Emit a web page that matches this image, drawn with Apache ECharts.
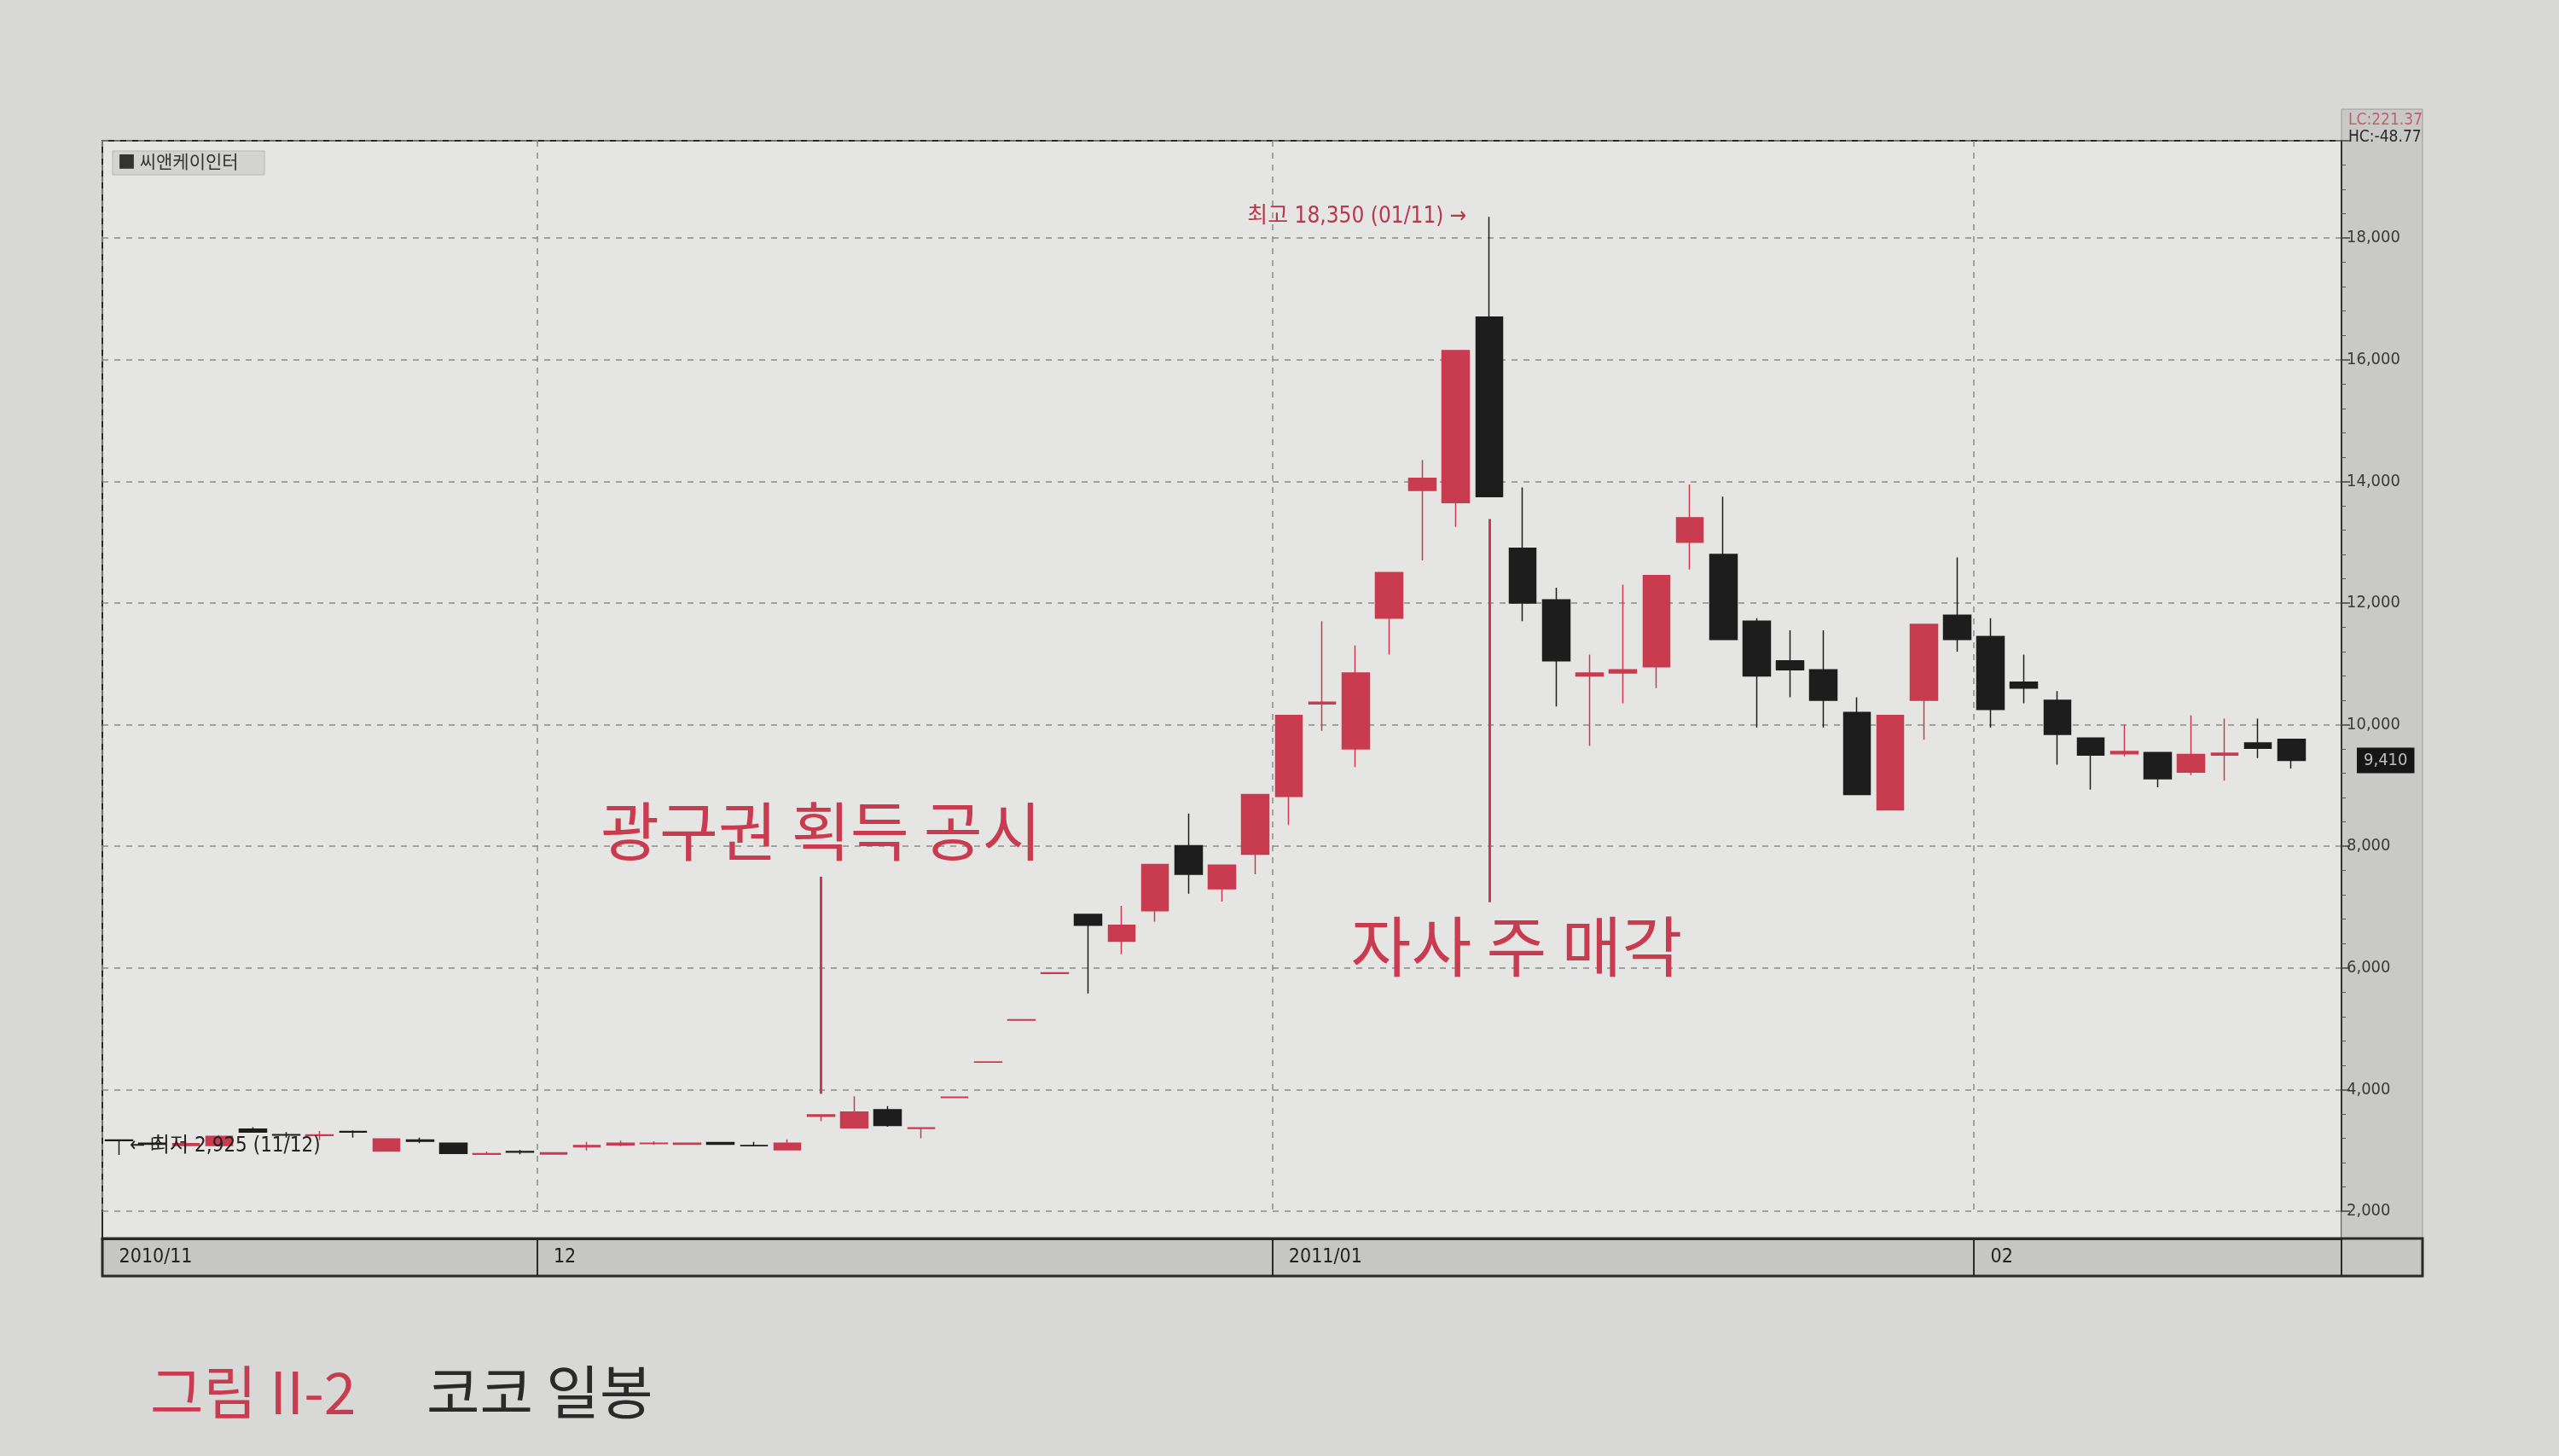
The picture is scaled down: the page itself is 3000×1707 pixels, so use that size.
<!DOCTYPE html>
<html><head><meta charset="utf-8">
<script src="https://cdn.jsdelivr.net/npm/echarts@6/dist/echarts.min.js"></script>
<style>html,body{margin:0;padding:0;background:#d8d9d7;}#c{width:3000px;height:1707px;}</style>
</head><body><div id="c"></div>
<script>
// ---- data ----
const dates = [
 '2010/11/12','2010/11/15','2010/11/16','2010/11/17','2010/11/18','2010/11/19','2010/11/22','2010/11/23','2010/11/24','2010/11/25','2010/11/26','2010/11/29','2010/11/30',
 '2010/12/01','2010/12/02','2010/12/03','2010/12/06','2010/12/07','2010/12/08','2010/12/09','2010/12/10','2010/12/13','2010/12/14','2010/12/15','2010/12/16','2010/12/17','2010/12/20','2010/12/21','2010/12/22','2010/12/23','2010/12/24','2010/12/27','2010/12/28','2010/12/29','2010/12/30',
 '2011/01/03','2011/01/04','2011/01/05','2011/01/06','2011/01/07','2011/01/10','2011/01/11','2011/01/12','2011/01/13','2011/01/14','2011/01/17','2011/01/18','2011/01/19','2011/01/20','2011/01/21','2011/01/24','2011/01/25','2011/01/26','2011/01/27','2011/01/28','2011/01/31',
 '2011/02/01','2011/02/07','2011/02/08','2011/02/09','2011/02/10','2011/02/11','2011/02/14','2011/02/15','2011/02/16','2011/02/17'
];
const opens = [
 3170,3120,3080,3080,3350,3260,3245,3310,2990,3170,3120,2935,2980,
 2940,3060,3090,3110,3100,3130,3080,3010,3560,3370,3670,3360,3870,4450,5140,5910,6880,6440,6940,8010,7300,7870,
 8820,10340,9600,11750,13850,13650,16700,12900,12050,10800,10850,10950,13000,12800,11700,11050,10900,10200,8600,10400,11800,
 11450,10700,10400,9780,9520,9540,9220,9500,9700,9760
];
const closes = [
 3160,3100,3110,3230,3300,3250,3255,3300,3190,3150,2950,2945,2970,
 2960,3080,3120,3120,3120,3100,3075,3120,3585,3630,3410,3370,3875,4455,5150,5920,6700,6700,7700,7540,7690,8850,
 10150,10370,10850,12500,14050,16150,13750,12000,11050,10850,10900,12450,13400,11400,10800,10900,10400,8850,10150,11650,11400,
 10250,10600,9840,9500,9560,9110,9510,9530,9610,9410
];
const lows = [
 2925,3000,3040,3070,3290,3210,3170,3210,2985,3120,2945,2930,2935,
 2930,3000,3070,3090,3090,3100,3070,3000,3480,3360,3390,3200,3865,4450,5140,5910,5580,6225,6760,7220,7090,7540,
 8350,9900,9300,11150,12700,13250,13750,11700,10300,9650,10350,10600,12550,11400,9950,10450,9950,8850,8600,9750,11200,
 9950,10350,9340,8930,9480,8970,9170,9080,9450,9280
];
const highs = [
 3175,3210,3160,3250,3380,3300,3320,3330,3200,3210,3125,2980,3010,
 2970,3140,3160,3150,3130,3135,3140,3180,3590,3890,3730,3375,3875,4455,5150,5920,6880,7020,7700,8540,7700,8850,
 10150,11700,11300,12500,14350,16150,18350,13900,12250,11150,12300,12450,13950,13750,11750,11550,11550,10450,10150,11650,12750,
 11750,11150,10550,9790,10000,9550,10150,10100,10100,9770
];
const monthStarts = ['2010/11/12','2010/12/01','2011/01/03','2011/02/01'];
const monthLabels = ['2010/11','12','2011/01','02'];
const yMin = 2000, yMax = 19600, yStep = 2000;

// ---- styles ----
const RED = '#c93b4f', BLK = '#1d1d1d';
const NARROW = '"Liberation Sans Narrow","DejaVu Sans Condensed","Noto Sans CJK KR",sans-serif';
const KR = '"Noto Sans CJK KR","Noto Sans",sans-serif';

const ohlc = dates.map((d, i) => [opens[i], closes[i], lows[i], highs[i]]);
const startIdx = monthStarts.map(d => dates.indexOf(d));
const isStart = (i) => startIdx.indexOf(i) >= 0;
const fmt = v => Number(v).toLocaleString('en-US');
const iHi = highs.indexOf(Math.max(...highs));
const iLo = lows.indexOf(Math.min(...lows));
const iNews = dates.indexOf('2010/12/13');
const last = closes[closes.length - 1];

const GL = 120, GR = 2745, GT = 165, GB = 1420, BAR = 32, BARH = 44, PANW = 95;

const chart = echarts.init(document.getElementById('c'));
chart.setOption({
  backgroundColor: '#d8d9d7',
  animation: false,
  grid: { left: GL, right: 3000 - GR, top: GT, bottom: 1707 - GB, show: false },
  xAxis: {
    type: 'category', data: dates, boundaryGap: true, max: dates.length,
    offset: BAR,
    axisLine: { show: true, lineStyle: { color: '#2a2a2a', width: 3 } },
    axisTick: { show: true, inside: false, length: BARH, interval: (i) => isStart(i),
                lineStyle: { color: '#2a2a2a', width: 2 } },
    axisLabel: { show: true, interval: (i) => isStart(i), align: 'left', margin: 11,
                 formatter: (v) => { const k = monthStarts.indexOf(v); return k >= 0 ? monthLabels[k] : ''; },
                 fontFamily: NARROW, fontSize: 23, color: '#222' },
    splitLine: { show: true, interval: (i) => isStart(i),
                 lineStyle: { color: '#8a8a8a', width: 1.5, type: [7, 7] } }
  },
  yAxis: {
    type: 'value', position: 'right', min: yMin, max: yMax, interval: yStep, scale: false,
    axisLine: { show: true, lineStyle: { color: '#333', width: 2 } },
    axisTick: { show: true, length: 10, lineStyle: { color: '#444', width: 1.5 } },
    minorTick: { show: true, splitNumber: 5, length: 5, lineStyle: { color: '#555', width: 1 } },
    axisLabel: { formatter: fmt, fontFamily: NARROW, fontSize: 20, color: '#3a3a3a', margin: 6,
                 showMaxLabel: false },
    splitLine: { show: true, lineStyle: { color: '#8a8a8a', width: 1.5, type: [7, 7] } }
  },
  series: [{
    type: 'candlestick', data: ohlc, barWidth: '82%',
    itemStyle: { color: RED, color0: BLK, borderColor: RED, borderColor0: BLK, borderWidth: 1.5 },
    markLine: {
      silent: true, symbol: 'none', animation: false,
      data: [
        [{ coord: [iNews, 7500], lineStyle: { color: RED, width: 3, type: 'solid' }, label: { show: false } },
         { coord: [iNews, 3930] }],
        [{ coord: [iHi, 13380], lineStyle: { color: RED, width: 3, type: 'solid' }, label: { show: false } },
         { coord: [iHi, 7080] }],
        { yAxis: last, lineStyle: { color: 'rgba(0,0,0,0)', width: 1, type: 'solid' },
          label: { show: true, position: 'end', distance: 18, formatter: fmt(last),
                   backgroundColor: '#161616', color: '#bdbdbd', padding: [5, 8],
                   fontFamily: NARROW, fontSize: 20, opacity: 1 } }
      ]
    },
    markPoint: {
      silent: true, symbol: 'circle', symbolSize: 1, itemStyle: { color: 'rgba(0,0,0,0)' },
      data: [
        { coord: [iHi, highs[iHi]],
          label: { show: true, position: 'left', distance: 26, formatter: '최고 ' + fmt(highs[iHi]) + ' (01/11) →',
                   color: '#b8384b', fontFamily: NARROW, fontSize: 26 } },
        { coord: [iLo, lows[iLo]],
          label: { show: true, position: 'right', distance: 12, offset: [0, -10],
                   formatter: '← 최저 ' + fmt(lows[iLo]) + ' (11/12)',
                   color: '#222', fontFamily: NARROW, fontSize: 24 } },
        { coord: [iNews, 8250],
          label: { show: true, position: 'inside', formatter: '광구권 획득 공시',
                   color: RED, fontFamily: KR, fontSize: 75, fontWeight: 400 } },
        { coord: [iHi, 6350],
          label: { show: true, position: 'inside', offset: [32, 0], formatter: '자사 주 매각',
                   color: RED, fontFamily: KR, fontSize: 77, fontWeight: 400 } }
      ]
    }
  }],
  graphic: [
    { type: 'rect', z: -2, shape: { x: GL, y: GT, width: GR - GL, height: GB + BAR - GT },
      style: { fill: '#e5e6e4', stroke: '#2a2a2a', lineWidth: 2 } },
    { type: 'rect', z: -1, shape: { x: GR, y: 128, width: PANW, height: GB + BAR - 128 },
      style: { fill: '#c9cac8', stroke: '#9a9a9a', lineWidth: 1 } },
    { type: 'rect', z: -1, shape: { x: GL, y: GB + BAR, width: GR + PANW - GL, height: BARH },
      style: { fill: '#c6c7c5', stroke: '#2a2a2a', lineWidth: 3 } },
    { type: 'text', left: GR + 8, top: 132, z: 10,
      style: { text: 'LC:221.37', fill: '#c0606e', font: '19px ' + NARROW } },
    { type: 'text', left: GR + 8, top: 152, z: 10,
      style: { text: 'HC:-48.77', fill: '#2a2a2a', font: '19px ' + NARROW } },
    { type: 'rect', z: 10, shape: { x: GL + 12, y: GT + 12, width: 178, height: 28 },
      style: { fill: '#d3d4d2', stroke: '#b5b5b5', lineWidth: 1 } },
    { type: 'text', left: GL + 18, top: GT + 14, z: 11,
      style: { text: '■ 씨앤케이인터', fill: '#333', font: '21px ' + KR } },
    { type: 'text', left: 176, top: 1598, z: 10,
      style: { text: '그림 II-2', fill: '#c83c50', font: '400 68px ' + KR } },
    { type: 'text', left: 500, top: 1598, z: 10,
      style: { text: '코코 일봉', fill: '#2a2a2a', font: '400 68px ' + KR } }
  ]
});
</script>
</body></html>
